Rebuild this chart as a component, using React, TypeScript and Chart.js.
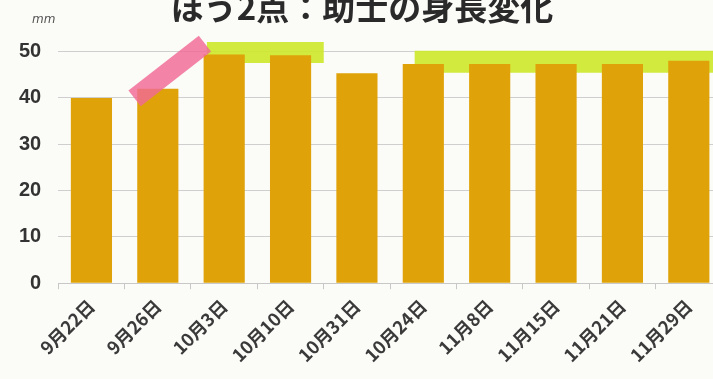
import React, { useEffect, useRef } from "react";
import { Chart, registerables } from "chart.js";

Chart.register(...registerables);

const titleText = "ほう2点：助士の身長変化";
const unitLabel = "mm";
const categories = ["9月22日", "9月26日", "10月3日", "10月10日", "10月31日", "10月24日", "11月8日", "11月15日", "11月21日", "11月29日"];
const heights = [40, 42, 49.4, 49.2, 45.3, 47.3, 47.3, 47.3, 47.3, 48];
const yMin = 0;
const yMax = 50;
const yStep = 10;
// hand-drawn highlighter marks (category index, value)
const pinkMark = [{ x: 0.65, y: 39.9 }, { x: 1.71, y: 51.7 }];
const greenMark1 = [{ x: 1.74, y: 49.8 }, { x: 3.5, y: 49.8 }];
const greenMark2 = [{ x: 4.87, y: 47.8 }, { x: 9.7, y: 47.8 }];

export default function App() {
  const ref = useRef<HTMLCanvasElement | null>(null);
  useEffect(() => {
    if (!ref.current) return;
    const font = "'Noto Sans CJK JP', 'Noto Sans', sans-serif";
    const chart = new Chart(ref.current, {
      type: "bar",
      data: {
        labels: categories,
        datasets: [
          {
            type: "line",
            data: greenMark1,
            xAxisID: "x2",
            borderColor: "rgba(205,232,40,0.9)",
            borderWidth: 21,
            borderCapStyle: "butt",
            pointRadius: 0,
            clip: false,
            order: 3,
          } as any,
          {
            type: "line",
            data: greenMark2,
            xAxisID: "x2",
            borderColor: "rgba(205,232,40,0.9)",
            borderWidth: 22,
            borderCapStyle: "butt",
            pointRadius: 0,
            clip: false,
            order: 3,
          } as any,
          {
            type: "bar",
            data: heights,
            backgroundColor: "#dfa208",
            barPercentage: 1,
            categoryPercentage: 0.62,
            grouped: false,
            order: 2,
          } as any,
          {
            type: "line",
            data: pinkMark,
            xAxisID: "x2",
            borderColor: "rgba(240,105,150,0.82)",
            borderWidth: 20,
            borderCapStyle: "butt",
            pointRadius: 0,
            clip: false,
            order: 1,
          } as any,
        ],
      },
      options: {
        animation: false,
        responsive: false,
        maintainAspectRatio: false,
        layout: { padding: { left: 2, right: 13, top: 0, bottom: 10 } },
        plugins: {
          legend: { display: false },
          tooltip: { enabled: false },
          title: {
            display: true,
            text: titleText,
            color: "#2a2a2a",
            font: { family: font, size: 33, weight: "bold", lineHeight: 1.2 },
            padding: { top: 0, bottom: 24 },
          },
        },
        scales: {
          x: {
            type: "category",
            offset: true,
            grid: { display: true, drawOnChartArea: false, drawTicks: true, tickLength: 6, offset: true, color: "#c8c8c8" },
            border: { display: true, color: "#c8c8c8" },
            ticks: {
              color: "#3a3a3a",
              font: { family: font, size: 18, weight: "bold" },
              maxRotation: 45,
              minRotation: 45,
              padding: 6,
              autoSkip: false,
            },
          },
          x2: {
            type: "linear",
            display: false,
            offset: false,
            min: -0.5,
            max: 9.5,
          },
          y: {
            min: yMin,
            max: yMax,
            ticks: {
              stepSize: yStep,
              color: "#333",
              font: { family: "'Liberation Sans', sans-serif", size: 20, weight: "bold" },
              padding: 17,
            },
            grid: { color: "#cfcfcf", drawTicks: false },
            border: { display: false },
          },
        },
      },
    });
    return () => chart.destroy();
  }, []);
  return (
    <div style={{ position: "fixed", left: 0, top: 0, width: 713, height: 379, overflow: "hidden", background: "#fbfbf8" }}>
      <div style={{ position: "absolute", left: 0, top: -12, width: 735, height: 394 }}>
        <canvas ref={ref} width={735} height={394} style={{ width: 735, height: 394 }} />
      </div>
      <span style={{ position: "absolute", left: 32, top: 12, fontSize: 12, fontStyle: "italic", color: "#555", fontFamily: "'DejaVu Sans', sans-serif" }}>{unitLabel}</span>
    </div>
  );
}
